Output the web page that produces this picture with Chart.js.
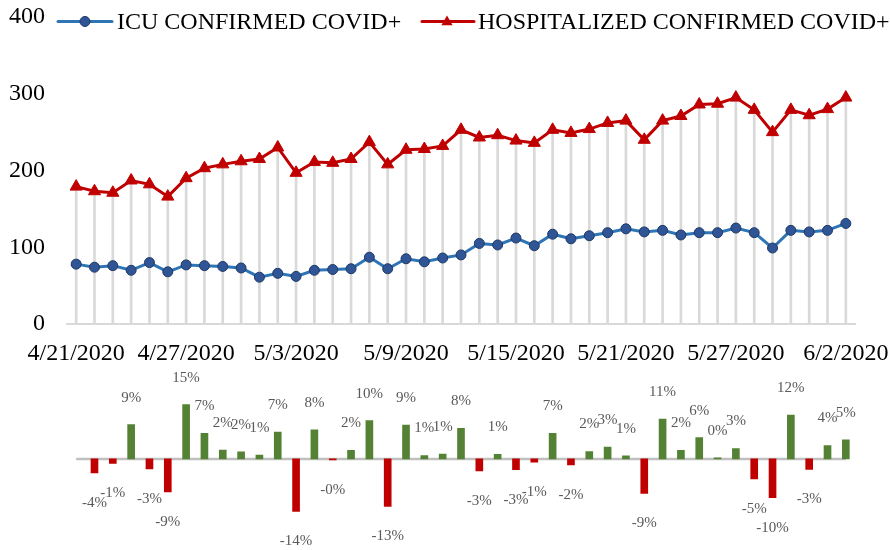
<!DOCTYPE html>
<html><head><meta charset="utf-8">
<script src="https://cdn.jsdelivr.net/npm/chart.js@4.4.1/dist/chart.umd.min.js"></script>
<style>
html,body{margin:0;padding:0;background:#fff;}
#wrap{position:relative;width:890px;height:550px;overflow:hidden;background:#fff;}
#top{position:absolute;left:0;top:0;}
#bot{position:absolute;left:0;top:360px;}
</style></head><body>
<div id="wrap"><canvas id="top" width="890" height="369"></canvas><canvas id="bot" width="890" height="190"></canvas></div>
<script>
const dates = ['4/21/2020','4/22/2020','4/23/2020','4/24/2020','4/25/2020','4/26/2020','4/27/2020','4/28/2020','4/29/2020','4/30/2020',
 '5/1/2020','5/2/2020','5/3/2020','5/4/2020','5/5/2020','5/6/2020','5/7/2020','5/8/2020','5/9/2020','5/10/2020',
 '5/11/2020','5/12/2020','5/13/2020','5/14/2020','5/15/2020','5/16/2020','5/17/2020','5/18/2020','5/19/2020','5/20/2020',
 '5/21/2020','5/22/2020','5/23/2020','5/24/2020','5/25/2020','5/26/2020','5/27/2020','5/28/2020','5/29/2020','5/30/2020',
 '5/31/2020','6/1/2020','6/2/2020'];
const tickLabels = ['4/21/2020','4/27/2020','5/3/2020','5/9/2020','5/15/2020','5/21/2020','5/27/2020','6/2/2020'];
const yTicks = [0,100,200,300,400];
const icu = [78,74,76,70,80,68,77,76,75,73,61,66,62,70,71,72,87,72,85,81,86,90,105,103,112,102,117,111,115,119,124,120,122,116,119,119,125,119,99,122,120,122,131];
const hospitalized = [179,173,171,187,182,166,190,203,208,212,215,230,197,211,210,215,237,208,227,228,232,253,243,246,239,236,253,249,254,262,265,240,265,271,286,287,295,279,250,279,272,280,295];
const pctChange = [null,-3.8,-1.2,9.2,-2.7,-8.9,14.6,6.9,2.4,1.9,1.0,7.2,-14.1,7.8,-0.3,2.3,10.3,-12.8,9.1,0.9,1.3,
 8.2,-3.2,1.2,-2.9,-0.9,6.9,-1.6,2.0,3.2,0.8,-9.3,10.7,2.3,5.7,0.3,2.8,-5.4,-10.4,11.8,-2.8,3.6,5.1];

const FONT = '"Liberation Serif", "Times New Roman", serif';
const BLUE = '#2E75B6', NAVY = '#2F5597', RED = '#C00000', GREEN = '#548235';
const seriesNames = ['ICU CONFIRMED COVID+','HOSPITALIZED CONFIRMED COVID+'];

const legendPlugin = {
  id: 'customLegend',
  afterDraw(chart) {
    const ctx = chart.ctx;
    ctx.save();
    ctx.font = '24px ' + FONT;
    ctx.textBaseline = 'middle';
    ctx.textAlign = 'left';
    // ICU item
    ctx.strokeStyle = BLUE; ctx.lineWidth = 3; ctx.lineCap = 'round';
    ctx.beginPath(); ctx.moveTo(58, 21.5); ctx.lineTo(112, 21.5); ctx.stroke();
    ctx.fillStyle = NAVY; ctx.strokeStyle = '#1F3864'; ctx.lineWidth = 1;
    ctx.beginPath(); ctx.arc(85, 21.5, 5, 0, Math.PI*2); ctx.fill(); ctx.stroke();
    ctx.fillStyle = '#000';
    ctx.fillText(seriesNames[0], 117, 22.5);
    // Hosp item
    ctx.strokeStyle = RED; ctx.lineWidth = 3;
    ctx.beginPath(); ctx.moveTo(422, 21.5); ctx.lineTo(474, 21.5); ctx.stroke();
    ctx.fillStyle = RED;
    const r = 6.5, cx = 447, cy = 22;
    ctx.beginPath();
    ctx.moveTo(cx, cy - r);
    ctx.lineTo(cx + r*0.866, cy + r*0.5);
    ctx.lineTo(cx - r*0.866, cy + r*0.5);
    ctx.closePath(); ctx.fill();
    ctx.fillStyle = '#000';
    ctx.fillText(seriesNames[1], 478, 22.5);
    ctx.restore();
  }
};

new Chart(document.getElementById('top'), {
  data: {
    labels: dates,
    datasets: [
      { type: 'line', label: seriesNames[0], data: icu, borderColor: BLUE, borderWidth: 3,
        pointStyle: 'circle', pointRadius: 5, pointBackgroundColor: NAVY, pointBorderColor: '#1F3864', pointBorderWidth: 1,
        tension: 0, order: 1 },
      { type: 'line', label: seriesNames[1], data: hospitalized, borderColor: RED, borderWidth: 3,
        pointStyle: 'triangle', pointRadius: 7, pointBackgroundColor: RED, pointBorderColor: RED, pointBorderWidth: 1,
        tension: 0, order: 2 },
      { type: 'bar', label: 'drop', data: hospitalized, backgroundColor: '#D9D9D9', barThickness: 2, order: 3 }
    ]
  },
  options: {
    responsive: false, animation: false, devicePixelRatio: 1,
    layout: { padding: { top: 17, right: 35, left: 0, bottom: 0 } },
    plugins: { legend: { display: false }, tooltip: { enabled: false } },
    scales: {
      x: {
        offset: true,
        grid: { display: false },
        border: { display: true, color: '#D9D9D9', width: 2 },
        ticks: {
          autoSkip: false, maxRotation: 0, minRotation: 0, padding: 7,
          font: { family: FONT, size: 24 }, color: '#000',
          callback: function(v, i) { const l = dates[i]; return tickLabels.includes(l) ? l : ''; }
        },
        afterFit(s) { s.height = 45; s.paddingLeft = 0; s.paddingRight = 0; }
      },
      y: {
        min: yTicks[0], max: yTicks[yTicks.length-1],
        grid: { display: false }, border: { display: false },
        afterBuildTicks(s) { s.ticks = yTicks.map(v => ({ value: v })); },
        ticks: { padding: 14, font: { family: FONT, size: 24 }, color: '#000' },
        afterFit(s) { s.width = 67; s.paddingTop = 0; s.paddingBottom = 0; }
      }
    }
  },
  plugins: [legendPlugin]
});

const zeroLinePlugin = {
  id: 'zeroLine',
  beforeDatasetsDraw(chart) {
    const x = chart.scales.x, y = chart.scales.y, ctx = chart.ctx;
    ctx.save();
    ctx.strokeStyle = '#BFBFBF'; ctx.lineWidth = 2.5;
    const y0 = y.getPixelForValue(0);
    ctx.beginPath(); ctx.moveTo(x.getPixelForValue(0), y0); ctx.lineTo(x.getPixelForValue(dates.length-1), y0); ctx.stroke();
    ctx.restore();
  }
};
const barLabelPlugin = {
  id: 'barLabels',
  afterDatasetsDraw(chart) {
    const ctx = chart.ctx;
    const meta = chart.getDatasetMeta(0);
    ctx.save();
    ctx.font = '15px ' + FONT;
    ctx.fillStyle = '#595959';
    ctx.textAlign = 'center'; ctx.textBaseline = 'middle';
    meta.data.forEach((el, i) => {
      const v = pctChange[i];
      if (v === null || v === undefined) return;
      const txt = v.toFixed(0) + '%';
      const yy = v >= 0 ? el.y - 27 : el.y + 30;
      ctx.fillText(txt, el.x, yy);
    });
    ctx.restore();
  }
};

new Chart(document.getElementById('bot'), {
  type: 'bar',
  data: {
    labels: dates,
    datasets: [{ label: 'pct', data: pctChange, barThickness: 7,
      backgroundColor: ctx => (ctx.raw !== null && ctx.raw < 0) ? RED : GREEN }]
  },
  options: {
    responsive: false, animation: false, devicePixelRatio: 1,
    layout: { padding: { top: 24.5, right: 35, left: 67, bottom: 16.7 } },
    plugins: { legend: { display: false }, tooltip: { enabled: false } },
    scales: {
      x: { display: false, offset: true },
      y: { display: false, min: -20, max: 20 }
    }
  },
  plugins: [zeroLinePlugin, barLabelPlugin]
});
</script>
</body></html>
